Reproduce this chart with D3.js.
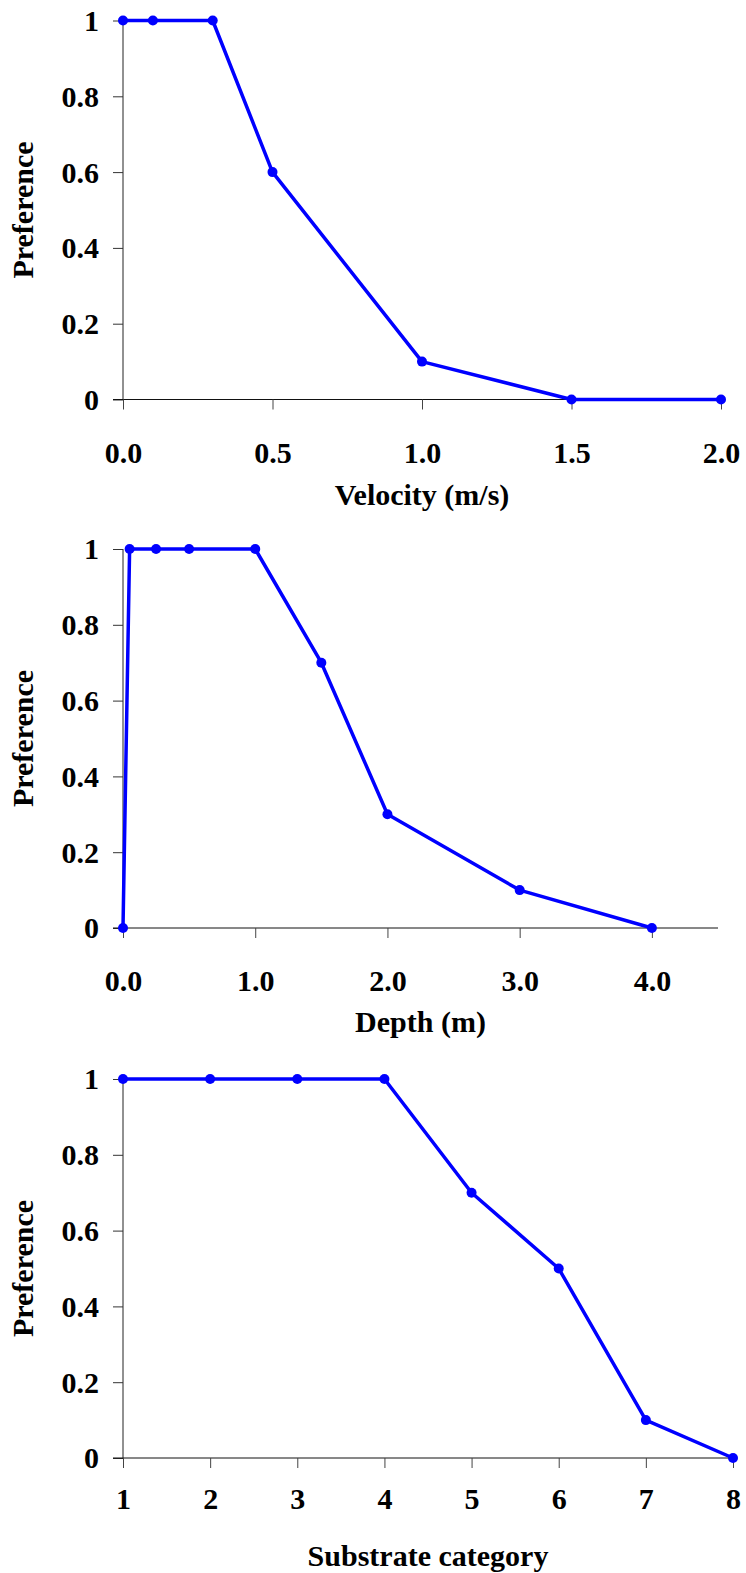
<!DOCTYPE html>
<html>
<head>
<meta charset="utf-8">
<script src="https://cdnjs.cloudflare.com/ajax/libs/d3/7.8.5/d3.min.js"></script>
<style>
  html, body { margin: 0; padding: 0; background: #fff; }
</style>
</head>
<body>
<svg id="chart" width="746" height="1573"></svg>
<script>
// Habitat suitability curves: preference against velocity, depth and substrate
const velocity = [0, 0.1, 0.3, 0.5, 1.0, 1.5, 2.0];
const velocityPref = [1, 1, 1, 0.6, 0.1, 0, 0];
const velocityTicks = [0, 0.5, 1.0, 1.5, 2.0];

const depth = [0, 0.05, 0.25, 0.5, 1.0, 1.5, 2.0, 3.0, 4.0];
const depthPref = [0, 1, 1, 1, 1, 0.7, 0.3, 0.1, 0];
const depthTicks = [0, 1, 2, 3, 4];

const substrate = [1, 2, 3, 4, 5, 6, 7, 8];
const substratePref = [1, 1, 1, 1, 0.7, 0.5, 0.1, 0];
const substrateTicks = [1, 2, 3, 4, 5, 6, 7, 8];

const prefTicks = [0, 0.2, 0.4, 0.6, 0.8, 1];

const FONT = "'Liberation Serif', 'Times New Roman', Times, serif";

const svg = d3.select("#chart");

function styleText(sel) {
  sel.attr("font-family", FONT)
     .attr("font-weight", "bold")
     .attr("font-size", 30)
     .attr("fill", "#000")
     .style("font-family", FONT)
     .style("font-weight", "bold")
     .style("font-size", "30px");
}

function panel(opts) {
  const g = svg.append("g");
  const x = d3.scaleLinear().domain(opts.xDomain).range([opts.left, opts.right]);
  const y = d3.scaleLinear().domain([0, 1]).range([opts.bottom, opts.top]);

  // y axis
  const yAxis = g.append("g").attr("transform", `translate(${opts.left},0)`)
    .call(d3.axisLeft(y).tickValues(prefTicks).tickSize(10).tickPadding(14)
      .tickFormat(d => d === 0 || d === 1 ? String(d) : d3.format(".1f")(d)));
  yAxis.attr("font-family", FONT);
  yAxis.select(".domain").attr("stroke", "#222").attr("d", `M0,${opts.bottom}V${opts.top}`);
  yAxis.selectAll(".tick line").attr("stroke", "#333");
  yAxis.selectAll(".tick text").call(styleText).attr("dy", "0.33em");

  // x axis
  const xAxis = g.append("g").attr("transform", `translate(0,${opts.bottom})`)
    .call(d3.axisBottom(x).tickValues(opts.xTicks).tickSize(10).tickPadding(opts.tickPad)
      .tickFormat(opts.xFormat));
  xAxis.attr("font-family", FONT);
  xAxis.select(".domain").attr("stroke", "#111").attr("d", `M${opts.left - 10},0H${opts.right}`);
  xAxis.selectAll(".tick line").attr("stroke", "#444");
  xAxis.selectAll(".tick text").call(styleText);

  // curve
  const pts = opts.xs.map((v, i) => [v, opts.ys[i]]);
  g.append("path")
    .datum(pts)
    .attr("fill", "none")
    .attr("stroke", "#0000ff")
    .attr("stroke-width", 3.5)
    .attr("stroke-linejoin", "round")
    .attr("d", d3.line().x(d => x(d[0])).y(d => y(d[1])));

  g.selectAll("circle.pt").data(pts).enter().append("circle")
    .attr("class", "pt")
    .attr("cx", d => x(d[0]))
    .attr("cy", d => y(d[1]))
    .attr("r", 5)
    .attr("fill", "#0000ff");

  // titles
  g.append("text")
    .attr("x", (opts.left + opts.xEndTitle) / 2)
    .attr("y", opts.titleY)
    .attr("text-anchor", "middle")
    .call(styleText)
    .text(opts.xTitle);

  g.append("text")
    .attr("transform", `translate(33,${(opts.top + opts.bottom) / 2}) rotate(-90)`)
    .attr("text-anchor", "middle")
    .call(styleText)
    .text("Preference");
}

panel({
  xs: velocity, ys: velocityPref, xTicks: velocityTicks,
  xDomain: [0, 2], left: 123, right: 721, top: 20.5, bottom: 399.5,
  xFormat: d3.format(".1f"), tickPad: 32, titleY: 505, xEndTitle: 721,
  xTitle: "Velocity (m/s)"
});

panel({
  xs: depth, ys: depthPref, xTicks: depthTicks,
  xDomain: [0, 4.5], left: 123, right: 718, top: 549, bottom: 928,
  xFormat: d3.format(".1f"), tickPad: 32, titleY: 1032, xEndTitle: 718,
  xTitle: "Depth (m)"
});

panel({
  xs: substrate, ys: substratePref, xTicks: substrateTicks,
  xDomain: [1, 8], left: 123, right: 733, top: 1079, bottom: 1458,
  xFormat: d3.format("d"), tickPad: 20, titleY: 1566, xEndTitle: 733,
  xTitle: "Substrate category"
});
</script>
</body>
</html>
